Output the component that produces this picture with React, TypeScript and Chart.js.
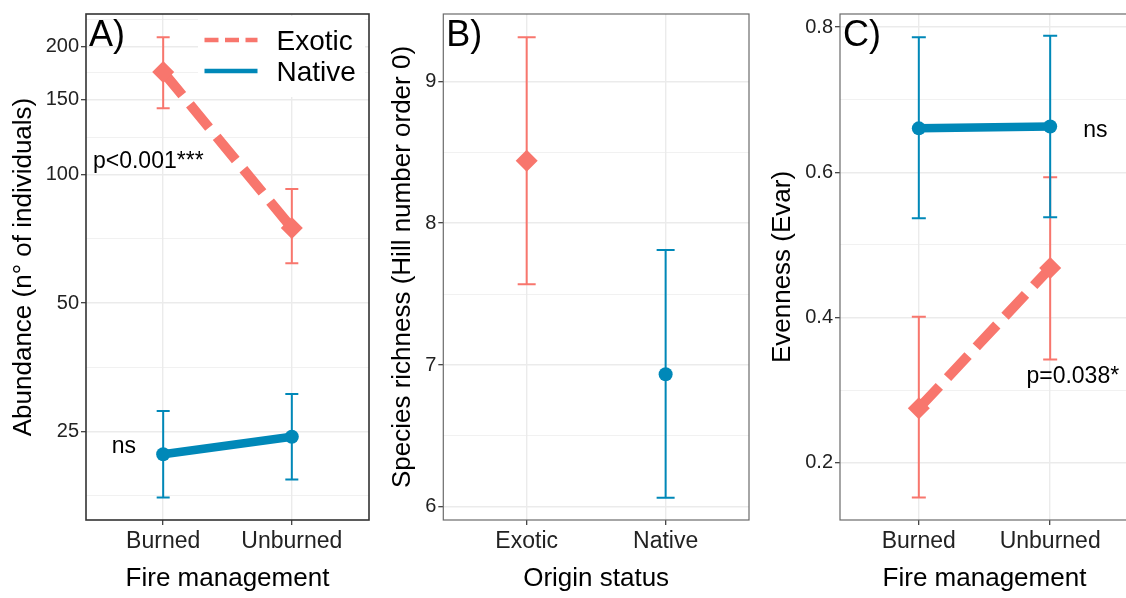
import React, { useEffect, useRef } from 'react';
import { Chart, registerables } from 'chart.js';

Chart.register(...registerables);

const FONT = '"Liberation Sans", Arial, Helvetica, sans-serif';
const EXOTIC = '#F8766D';
const NATIVE = '#0088B8';
const H = 598;

// ---------- Data ----------
const fireCategories = ['Burned', 'Unburned'];
const originCategories = ['Exotic', 'Native'];
const seriesNames = ['Exotic', 'Native'];

// Panel A: abundance (log scale)
const abundanceExotic = [174, 75];
const abundanceExoticLow = [143, 62];
const abundanceExoticHigh = [210, 92.5];
const abundanceNative = [22.1, 24.3];
const abundanceNativeLow = [17.5, 19.3];
const abundanceNativeHigh = [27.9, 30.6];
const abundanceMajorTicks = [25, 50, 100, 150, 200];
const abundanceMinorTicks = [17.68, 35.36, 70.71, 122.47, 173.21, 230.94];

// Panel B: species richness
const richness = [8.44, 6.935];
const richnessLow = [7.57, 6.065];
const richnessHigh = [9.31, 7.81];
const richnessMajorTicks = [6, 7, 8, 9];
const richnessMinorTicks = [6.5, 7.5, 8.5];

// Panel C: evenness
const evennessExotic = [0.275, 0.468];
const evennessExoticLow = [0.152, 0.342];
const evennessExoticHigh = [0.401, 0.593];
const evennessNative = [0.6605, 0.663];
const evennessNativeLow = [0.5365, 0.538];
const evennessNativeHigh = [0.786, 0.788];
const evennessMajorTicks = [0.2, 0.4, 0.6, 0.8];
const evennessMinorTicks = [0.3, 0.5, 0.7];

// ---------- Types ----------
type ErrSeries = { color: string; xs: number[]; lo: number[]; hi: number[] };
type Note = { text: string; x: number; y: number; size: number };
type LegendEntry = { label: string; color: string; dash: number[] };

interface Panel {
  left: number;
  width: number;
  yAxisWidth: number;
  padTop: number;
  padRight: number;
  yTitlePad: number;
  yType: 'linear' | 'logarithmic';
  yMin: number;
  yMax: number;
  yMajor: number[];
  yMinor: number[];
  yLabel: (v: number) => string;
  yTitle: string;
  xTitle: string;
  categories: string[];
  datasets: any[];
  errors: ErrSeries[];
  capHalf: number;
  frameColor: string;
  frameWidth: number;
  tag: string;
  notes: Note[];
  legend: LegendEntry[] | null;
}

const pts = (vals: number[], xs?: number[]) =>
  vals.map((y, i) => ({ x: xs ? xs[i] : i + 1, y }));

const exoticLine = (vals: number[]) => ({
  label: seriesNames[0],
  data: pts(vals),
  borderColor: EXOTIC,
  backgroundColor: EXOTIC,
  borderWidth: 10,
  borderDash: [30, 12],
  borderCapStyle: 'butt',
  pointStyle: 'rectRot',
  pointRadius: 11,
  pointBorderWidth: 0,
  pointBackgroundColor: EXOTIC,
});

const nativeLine = (vals: number[]) => ({
  label: seriesNames[1],
  data: pts(vals),
  borderColor: NATIVE,
  backgroundColor: NATIVE,
  borderWidth: 8.5,
  borderCapStyle: 'butt',
  pointStyle: 'circle',
  pointRadius: 7,
  pointBorderWidth: 0,
  pointBackgroundColor: NATIVE,
});

const panelA: Panel = {
  left: 0,
  width: 380,
  yAxisWidth: 86,
  padTop: 11,
  padRight: 8.5,
  yTitlePad: 8.7,
  yType: 'logarithmic',
  yMin: 15.5,
  yMax: 238,
  yMajor: abundanceMajorTicks,
  yMinor: abundanceMinorTicks,
  yLabel: (v) => String(v),
  yTitle: 'Abundance (n° of individuals)',
  xTitle: 'Fire management',
  categories: fireCategories,
  datasets: [exoticLine(abundanceExotic), nativeLine(abundanceNative)],
  errors: [
    { color: EXOTIC, xs: [1, 2], lo: abundanceExoticLow, hi: abundanceExoticHigh },
    { color: NATIVE, xs: [1, 2], lo: abundanceNativeLow, hi: abundanceNativeHigh },
  ],
  capHalf: 6.5,
  frameColor: '#333333',
  frameWidth: 1.6,
  tag: 'A)',
  notes: [
    { text: 'p<0.001***', x: 0.454, y: 103.6, size: 23 },
    { text: 'ns', x: 0.6, y: 22.3, size: 23 },
  ],
  legend: [
    { label: seriesNames[0], color: EXOTIC, dash: [14, 6.5] },
    { label: seriesNames[1], color: NATIVE, dash: [] },
  ],
};

const panelB: Panel = {
  left: 380,
  width: 380,
  yAxisWidth: 63.3,
  padTop: 11.4,
  padRight: 11,
  yTitlePad: 7.4,
  yType: 'linear',
  yMin: 5.908,
  yMax: 9.474,
  yMajor: richnessMajorTicks,
  yMinor: richnessMinorTicks,
  yLabel: (v) => String(v),
  yTitle: 'Species richness (Hill number order 0)',
  xTitle: 'Origin status',
  categories: originCategories,
  datasets: [
    {
      label: originCategories[0],
      data: pts([richness[0]], [1]),
      showLine: false,
      backgroundColor: EXOTIC,
      borderColor: EXOTIC,
      pointStyle: 'rectRot',
      pointRadius: 11,
      pointBorderWidth: 0,
    },
    {
      label: originCategories[1],
      data: pts([richness[1]], [2]),
      showLine: false,
      backgroundColor: NATIVE,
      borderColor: NATIVE,
      pointStyle: 'circle',
      pointRadius: 7,
      pointBorderWidth: 0,
    },
  ],
  errors: [
    { color: EXOTIC, xs: [1], lo: [richnessLow[0]], hi: [richnessHigh[0]] },
    { color: NATIVE, xs: [2], lo: [richnessLow[1]], hi: [richnessHigh[1]] },
  ],
  capHalf: 9,
  frameColor: '#6b6b6b',
  frameWidth: 1.2,
  tag: 'B)',
  notes: [],
  legend: null,
};

const panelC: Panel = {
  left: 760,
  width: 380,
  yAxisWidth: 80,
  padTop: 11.7,
  padRight: 10,
  yTitlePad: 7.4,
  yType: 'linear',
  yMin: 0.121,
  yMax: 0.818,
  yMajor: evennessMajorTicks,
  yMinor: evennessMinorTicks,
  yLabel: (v) => v.toFixed(1),
  yTitle: 'Evenness (Evar)',
  xTitle: 'Fire management',
  categories: fireCategories,
  datasets: [nativeLine(evennessNative), exoticLine(evennessExotic)],
  errors: [
    { color: EXOTIC, xs: [1, 2], lo: evennessExoticLow, hi: evennessExoticHigh },
    { color: NATIVE, xs: [1, 2], lo: evennessNativeLow, hi: evennessNativeHigh },
  ],
  capHalf: 7,
  frameColor: '#6b6b6b',
  frameWidth: 1.2,
  tag: 'C)',
  notes: [
    { text: 'ns', x: 2.251, y: 0.649, size: 23 },
    { text: 'p=0.038*', x: 1.819, y: 0.31, size: 23 },
  ],
  legend: null,
};

function makeConfig(p: Panel): any {
  const isMajor = (v: number) => p.yMajor.some((m) => Math.abs(m - v) < 1e-9);

  const decor = {
    id: 'panelDecor',
    beforeDatasetsDraw(chart: any) {
      const { ctx } = chart;
      const xs = chart.scales.x;
      const ys = chart.scales.y;
      ctx.save();
      ctx.lineWidth = 2;
      ctx.lineCap = 'butt';
      p.errors.forEach((e) => {
        ctx.strokeStyle = e.color;
        e.xs.forEach((xv, i) => {
          const x = xs.getPixelForValue(xv);
          const y1 = ys.getPixelForValue(e.lo[i]);
          const y2 = ys.getPixelForValue(e.hi[i]);
          ctx.beginPath();
          ctx.moveTo(x, y1);
          ctx.lineTo(x, y2);
          ctx.moveTo(x - p.capHalf, y1);
          ctx.lineTo(x + p.capHalf, y1);
          ctx.moveTo(x - p.capHalf, y2);
          ctx.lineTo(x + p.capHalf, y2);
          ctx.stroke();
        });
      });
      ctx.restore();
    },
    afterDraw(chart: any) {
      const { ctx, chartArea: ca } = chart;
      const xs = chart.scales.x;
      const ys = chart.scales.y;
      ctx.save();
      // legend
      if (p.legend) {
        const bx = ca.right - 171;
        const by = ca.top + 2;
        ctx.fillStyle = '#ffffff';
        ctx.fillRect(bx, by, 167, 81);
        p.legend.forEach((L, i) => {
          const ry = ca.top + 26 + i * 31;
          ctx.strokeStyle = L.color;
          ctx.lineWidth = 4.5;
          ctx.lineCap = 'butt';
          ctx.setLineDash(L.dash);
          ctx.beginPath();
          ctx.moveTo(ca.right - 164.5, ry);
          ctx.lineTo(ca.right - 111.5, ry);
          ctx.stroke();
          ctx.setLineDash([]);
          ctx.fillStyle = '#000';
          ctx.font = `28px ${FONT}`;
          ctx.textAlign = 'left';
          ctx.textBaseline = 'middle';
          ctx.fillText(L.label, ca.right - 92.5, ry + 2);
        });
      }
      // frame
      ctx.strokeStyle = p.frameColor;
      ctx.lineWidth = p.frameWidth;
      ctx.strokeRect(ca.left, ca.top, ca.right - ca.left, ca.bottom - ca.top);
      // notes
      ctx.fillStyle = '#000';
      ctx.textAlign = 'left';
      ctx.textBaseline = 'alphabetic';
      p.notes.forEach((n) => {
        ctx.font = `${n.size}px ${FONT}`;
        ctx.fillText(n.text, xs.getPixelForValue(n.x), ys.getPixelForValue(n.y));
      });
      // tag
      ctx.font = `36px ${FONT}`;
      ctx.fillText(p.tag, ca.left + 3, ca.top + 32);
      ctx.restore();
    },
  };

  return {
    type: 'line',
    data: { datasets: p.datasets },
    options: {
      animation: false,
      responsive: false,
      maintainAspectRatio: false,
      events: [],
      layout: { padding: { left: 0, right: p.padRight, top: p.padTop, bottom: 0 } },
      plugins: {
        legend: { display: false },
        title: { display: false },
        tooltip: { enabled: false },
      },
      scales: {
        x: {
          type: 'linear',
          min: 0.4,
          max: 2.6,
          bounds: 'data',
          afterBuildTicks: (s: any) => {
            s.ticks = p.categories.map((_, i) => ({ value: i + 1 }));
          },
          afterFit: (s: any) => {
            s.height = H - 520;
          },
          ticks: {
            autoSkip: false,
            maxRotation: 0,
            padding: 3,
            color: '#222',
            font: { family: FONT, size: 23 },
            callback: (v: any) => p.categories[Math.round(Number(v)) - 1] ?? '',
          },
          grid: {
            color: '#EBEBEB',
            lineWidth: 1.4,
            tickLength: 5,
            tickColor: '#333',
            tickWidth: 1.2,
          },
          border: { display: false },
          title: {
            display: true,
            text: p.xTitle,
            color: '#000',
            font: { family: FONT, size: 26 },
            padding: { top: 0, bottom: 4 },
          },
        },
        y: {
          type: p.yType,
          min: p.yMin,
          max: p.yMax,
          bounds: 'data',
          afterBuildTicks: (s: any) => {
            s.ticks = [...p.yMajor, ...p.yMinor]
              .sort((a, b) => a - b)
              .map((v) => ({ value: v }));
          },
          afterFit: (s: any) => {
            s.width = p.yAxisWidth;
          },
          ticks: {
            autoSkip: false,
            padding: 2,
            color: '#222',
            font: { family: FONT, size: 20 },
            callback: (v: any) => (isMajor(Number(v)) ? p.yLabel(Number(v)) : ''),
          },
          grid: {
            color: '#EBEBEB',
            lineWidth: (c: any) => (c.tick && isMajor(c.tick.value) ? 1.4 : 0.7),
            tickLength: 5,
            tickColor: (c: any) =>
              c.tick && isMajor(c.tick.value) ? '#333' : 'rgba(0,0,0,0)',
            tickWidth: 1.2,
          },
          border: { display: false },
          title: {
            display: true,
            text: p.yTitle,
            color: '#000',
            font: { family: FONT, size: 26 },
            padding: { top: p.yTitlePad, bottom: 0 },
          },
        },
      },
    },
    plugins: [decor],
  };
}

function PanelChart({ spec }: { spec: Panel }) {
  const ref = useRef<HTMLCanvasElement>(null);
  useEffect(() => {
    if (!ref.current) return;
    const chart = new Chart(ref.current, makeConfig(spec));
    return () => chart.destroy();
  }, [spec]);
  return (
    <canvas
      ref={ref}
      width={spec.width}
      height={H}
      style={{ position: 'absolute', left: spec.left, top: 0, width: spec.width, height: H, display: 'block' }}
    />
  );
}

const panels = [panelA, panelB, panelC];

export default function App() {
  return (
    <div
      style={{
        position: 'absolute',
        left: 0,
        top: 0,
        width: 1126,
        height: H,
        overflow: 'hidden',
        background: '#ffffff',
      }}
    >
      {panels.map((p) => (
        <PanelChart key={p.tag} spec={p} />
      ))}
    </div>
  );
}
